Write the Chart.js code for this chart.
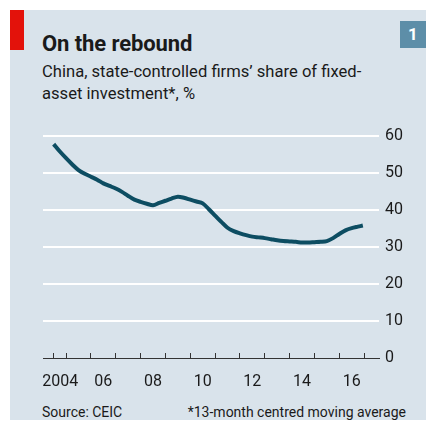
<!DOCTYPE html>
<html>
<head>
<meta charset="utf-8">
<script src="https://cdn.jsdelivr.net/npm/chart.js@4"></script>
<style>
    body { margin: 0; background: #fff; font-family: Roboto, "Noto Sans", sans-serif; color: #1a1a1a; }
    .panel { position: absolute; left: 10px; top: 10px; width: 416px; height: 410px; background: #d9e3eb; }
    .redbar { position: absolute; left: 10px; top: 10px; width: 14px; height: 40px; background: #e3120b; }
    .num { position: absolute; left: 400px; top: 21px; width: 26px; height: 27px; background: #5d8ea8;
           color: #fff; font-weight: bold; font-size: 17px; line-height: 27px; text-align: center; }
    .title { position: absolute; left: 42px; top: 32px; font-size: 22px; font-weight: bold; line-height: 24px; letter-spacing: -0.1px; }
    .subtitle { position: absolute; left: 42px; top: 61px; font-size: 16.6px; line-height: 22px; white-space: nowrap; }
    .source { position: absolute; top: 404px; font-size: 14px; line-height: 16px; }
    .chart-wrap { position: absolute; left: 0; top: 0; width: 426px; height: 423px; }
</style>
</head>
<body>
<div class="panel"></div>
<div class="redbar"></div>
<div class="num">1</div>
<div class="title">On the rebound</div>
<div class="subtitle">China, state-controlled firms’ share of fixed-<br>asset investment*, %</div>
<div class="source" style="left:42px;">Source: CEIC</div>
<div class="source" style="right:20px;">*13-month centred moving average</div>
<div class="chart-wrap"><canvas id="reboundChart"></canvas></div>

<script>
// Series (decimal year, % share)
const years = [
    2004.5, 2004.75, 2005.0, 2005.25, 2005.5, 2005.75, 2006.0, 2006.25, 2006.5, 2006.75,
    2007.0, 2007.25, 2007.5, 2007.75, 2008.0, 2008.25, 2008.5, 2008.75, 2009.0, 2009.25,
    2009.5, 2009.75, 2010.0, 2010.25, 2010.5, 2010.75, 2011.0, 2011.25, 2011.5, 2011.75,
    2012.0, 2012.25, 2012.5, 2012.75, 2013.0, 2013.25, 2013.5, 2013.75, 2014.0, 2014.25,
    2014.5, 2014.75, 2015.0, 2015.25, 2015.5, 2015.75, 2016.0, 2016.25, 2016.5, 2016.75, 2016.95
];
const share = [
    57.8, 55.8, 54.0, 52.3, 50.8, 49.8, 49.0, 48.2, 47.2, 46.5,
    45.8, 44.9, 43.8, 42.8, 42.2, 41.7, 41.3, 41.9, 42.5, 43.1,
    43.6, 43.3, 42.8, 42.3, 41.8, 40.2, 38.5, 36.8, 35.2, 34.3,
    33.7, 33.2, 32.8, 32.6, 32.4, 32.1, 31.8, 31.6, 31.5, 31.4,
    31.2, 31.2, 31.3, 31.4, 31.6, 32.4, 33.5, 34.5, 35.1, 35.5, 35.8
];

// Axis ticks
const tickYears = [2004.48, 2005, 2006, 2007, 2008, 2009, 2010, 2011, 2012, 2013, 2014, 2015, 2016, 2017];
const yearLabels = ['2004', '06', '08', '10', '12', '14', '16'];
const yearLabelAt = [2004.76, 2006.5, 2008.5, 2010.5, 2012.5, 2014.5, 2016.5];
const yTicks = [0, 10, 20, 30, 40, 50, 60];

function labelFor(value) {
    const i = yearLabelAt.findIndex(v => Math.abs(v - value) < 0.001);
    return i >= 0 ? yearLabels[i] : '';
}

function isTickMark(value) {
    return tickYears.some(v => Math.abs(v - value) < 0.001);
}

function renderChart() {
    const ctx = document.getElementById('reboundChart').getContext('2d');

    new Chart(ctx, {
        type: 'line',
        data: {
            datasets: [{
                data: years.map((x, i) => ({ x: x, y: share[i] })),
                borderColor: '#0d4d62',
                borderWidth: 4,
                pointRadius: 0,
                tension: 0.3,
                fill: false
            }]
        },
        options: {
            responsive: true,
            maintainAspectRatio: false,
            devicePixelRatio: 1,
            animation: false,
            events: [],
            layout: { padding: { left: 43, top: 136, right: 17, bottom: 35 } },
            plugins: {
                legend: { display: false },
                tooltip: { enabled: false }
            },
            scales: {
                x: {
                    type: 'linear',
                    min: 2004.07,
                    max: 2017.6,
                    afterBuildTicks: scale => {
                        const vals = tickYears.concat(yearLabelAt).sort((a, b) => a - b);
                        scale.ticks = vals.map(v => ({ value: v }));
                    },
                    afterFit: scale => { scale.height = 30; },
                    grid: {
                        drawOnChartArea: false,
                        drawTicks: true,
                        tickLength: -5,
                        tickWidth: 1,
                        tickColor: c => (c.tick && isTickMark(c.tick.value)) ? '#333' : 'rgba(0,0,0,0)'
                    },
                    border: { display: true, color: '#333', width: 1 },
                    ticks: {
                        autoSkip: false,
                        maxRotation: 0,
                        padding: 19,
                        color: '#1a1a1a',
                        font: { family: 'Roboto', size: 16 },
                        callback: value => labelFor(value)
                    }
                },
                y: {
                    position: 'right',
                    min: 0,
                    max: 60,
                    afterBuildTicks: scale => {
                        scale.ticks = yTicks.map(v => ({ value: v }));
                    },
                    afterFit: scale => { scale.width = 30; },
                    grid: {
                        drawTicks: false,
                        lineWidth: 2,
                        color: c => (c.tick && c.tick.value === 0) ? 'rgba(0,0,0,0)' : '#ffffff'
                    },
                    border: { display: false },
                    ticks: {
                        padding: 6,
                        color: '#1a1a1a',
                        font: { family: 'Roboto', size: 16 }
                    }
                }
            }
        }
    });
}

document.addEventListener('DOMContentLoaded', renderChart);
</script>
</body>
</html>
